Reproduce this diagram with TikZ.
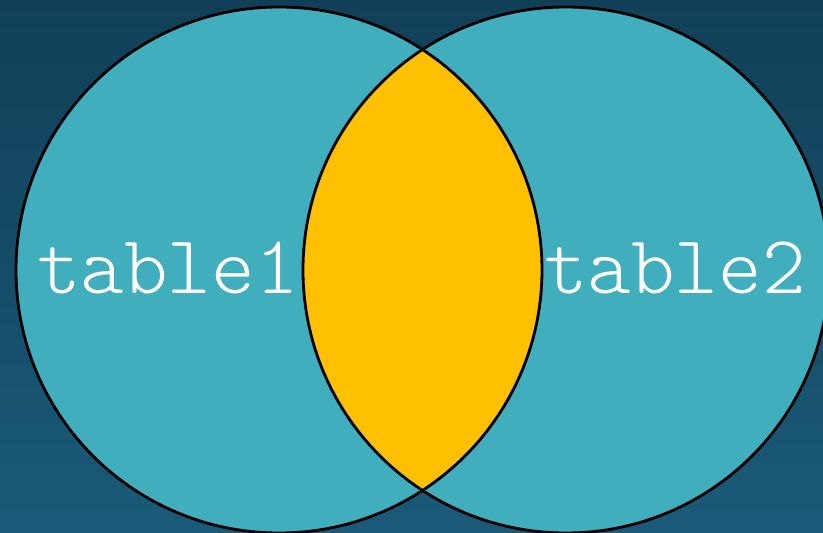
\documentclass[tikz,border=0pt]{standalone}
\usepackage{fontspec}
\definecolor{vennTeal}{RGB}{65,174,190}
\definecolor{vennGold}{RGB}{255,192,0}
\definecolor{vennBgTop}{RGB}{17,63,88}
\definecolor{vennBgBot}{RGB}{26,90,120}

\begin{document}
\begin{tikzpicture}[x=0.01cm,y=-0.01cm,
  setfill/.style={fill=vennTeal},
  setline/.style={draw=black,line width=0.8pt},
  setlabel/.style={text=white,font=\ttfamily\fontseries{l}\fontsize{23.6}{27}\selectfont,anchor=base,inner sep=0pt}
]
\useasboundingbox (0,0) rectangle (823,533);
\clip (0,0) rectangle (823,533);
\shade[top color=vennBgTop,bottom color=vennBgBot] (0,0) rectangle (823,533);
% the two sets
\coordinate (c1) at (279,270);
\coordinate (c2) at (566,270);
\fill[setfill] (c1) circle[radius=263];
\fill[setfill] (c2) circle[radius=263];
% overlap
\begin{scope}
  \clip (c1) circle[radius=263];
  \fill[vennGold] (c2) circle[radius=263];
\end{scope}
\draw[setline] (c1) circle[radius=263];
\draw[setline] (c2) circle[radius=263];
\node[setlabel] (table1) at (168,293) {table1};
\node[setlabel] (table2) at (675,293) {table2};
\end{tikzpicture}
\end{document}
